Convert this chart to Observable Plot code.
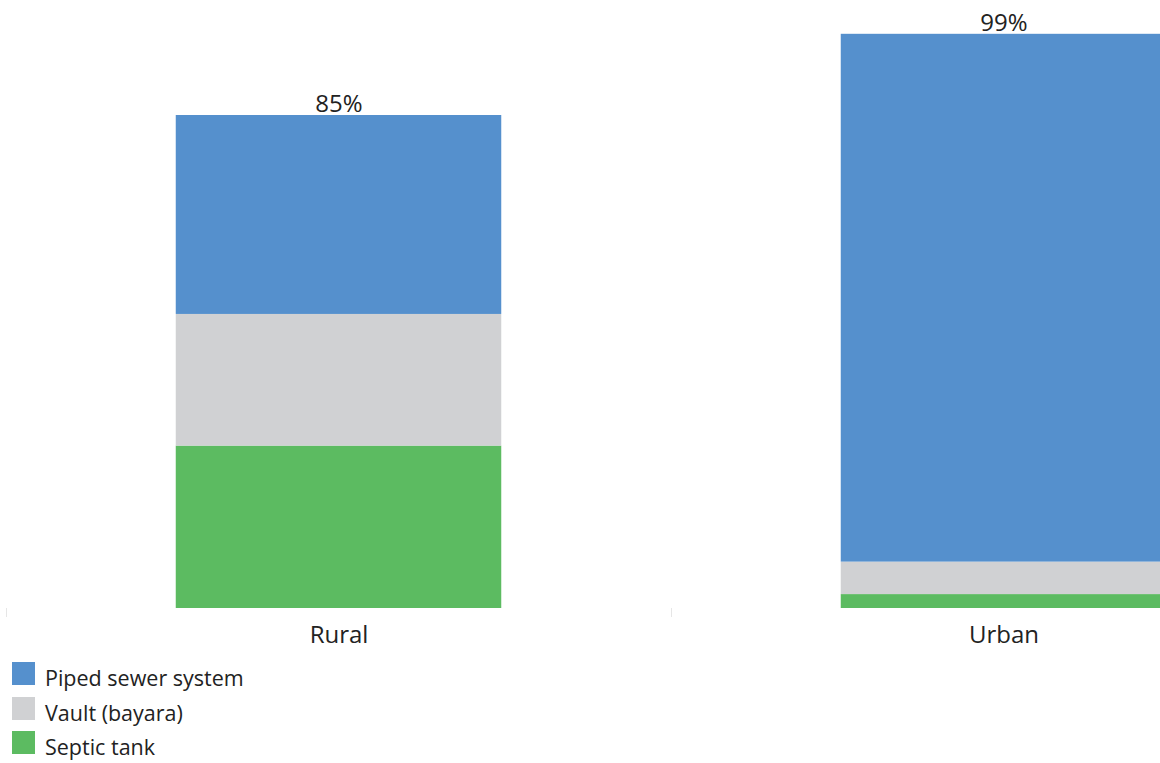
<!DOCTYPE html>
<html>
<head>
<meta charset="utf-8">
<script src="https://cdn.jsdelivr.net/npm/d3@7"></script>
<script src="https://cdn.jsdelivr.net/npm/@observablehq/plot@0.6"></script>
<style>
  body { margin: 0; background: #fff; font-family: "Open Sans", sans-serif; color: #222; overflow: hidden; }
  #chart svg { overflow: hidden; }
  .legend { margin-top: 12px; }
  .row { position: relative; height: 34.5px; }
  .sw { position: absolute; left: 12px; top: 0; width: 23px; height: 23px; }
  .lab { position: absolute; left: 45px; top: 5px; font-size: 21.5px; line-height: 22px; white-space: nowrap; }
</style>
</head>
<body>
<div id="chart"></div>
<div class="legend" id="legend"></div>
<script>
const categories = ["Rural", "Urban"];
const seriesNames = ["Septic tank", "Vault (bayara)", "Piped sewer system"];
const septicTank = [28.0, 2.4];
const vaultBayara = [22.7, 5.6];
const pipedSewer = [34.3, 91.0];
const totals = [85, 99];
const colors = ["#5cbb61", "#d0d1d3", "#5590cd"];
const legendOrder = ["Piped sewer system", "Vault (bayara)", "Septic tank"];

const seriesValues = [septicTank, vaultBayara, pipedSewer];
const rows = [];
seriesNames.forEach((s, i) => {
  categories.forEach((c, j) => rows.push({category: c, type: s, value: seriesValues[i][j]}));
});
const totalRows = categories.map((c, j) => ({category: c, total: totals[j]}));

const W = 1160, H = 650;
const xRange = [6, 1336];
const step = (xRange[1] - xRange[0]) / categories.length;
const barInset = (step - 325.5) / 2;

const chart = Plot.plot({
  width: W,
  height: H,
  marginTop: 28,
  marginBottom: 42,
  marginLeft: 0,
  marginRight: 0,
  style: {fontFamily: "Open Sans, sans-serif", color: "#222", background: "#fff"},
  x: {domain: categories, range: xRange, padding: 0, label: null},
  y: {domain: [0, 100], axis: null},
  color: {domain: seriesNames, range: colors},
  marks: [
    Plot.barY(rows, {x: "category", y: "value", fill: "type", insetLeft: barInset, insetRight: barInset}),
    Plot.text(totalRows, {x: "category", y: "total", text: d => d.total + "%", lineAnchor: "bottom", dy: -3.5, fontSize: 24, fill: "#222"}),
    Plot.axisX({tickSize: 0, tickPadding: 17, fontSize: 24, fill: "#222"}),
    Plot.axisX({tickSize: 9, tickFormat: () => "", dx: -step / 2, stroke: "#e6e6e6"})
  ]
});
document.getElementById("chart").appendChild(chart);

const legend = document.getElementById("legend");
legendOrder.forEach(name => {
  const row = document.createElement("div");
  row.className = "row";
  const sw = document.createElement("div");
  sw.className = "sw";
  sw.style.background = colors[seriesNames.indexOf(name)];
  const lab = document.createElement("div");
  lab.className = "lab";
  lab.textContent = name;
  row.appendChild(sw);
  row.appendChild(lab);
  legend.appendChild(row);
});
</script>
</body>
</html>
